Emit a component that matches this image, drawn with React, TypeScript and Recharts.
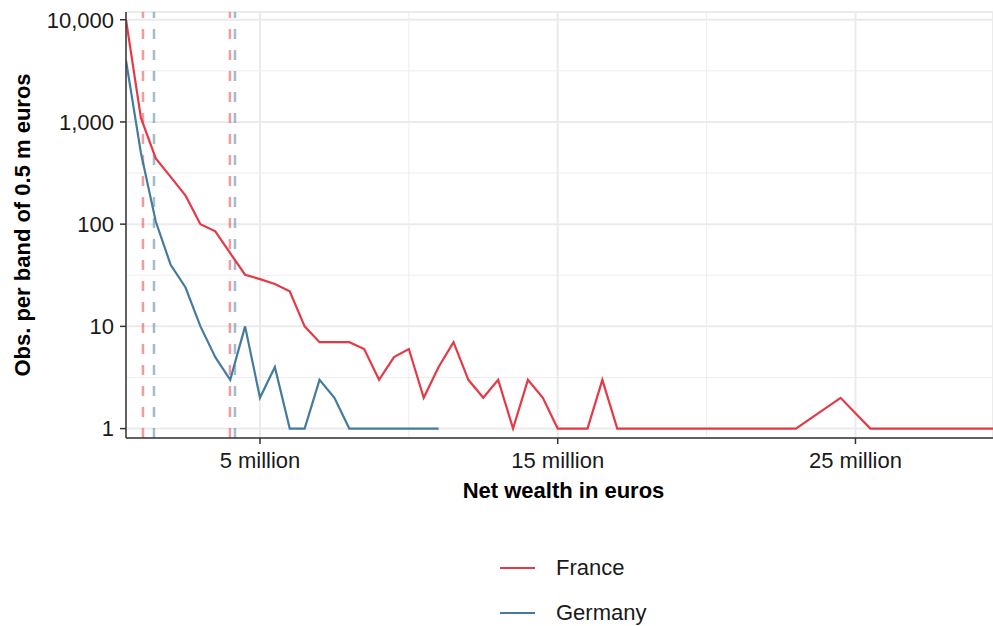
import {
  LineChart,
  Line,
  XAxis,
  YAxis,
  CartesianGrid,
  ReferenceLine,
  Legend,
} from "recharts";

// bands of 0.5 m euros (lower bound), only bands with observations
const franceBands = [
  0.5, 1, 1.5, 2, 2.5, 3, 3.5, 4, 4.5, 5, 5.5, 6, 6.5, 7, 7.5, 8, 8.5, 9, 9.5,
  10, 10.5, 11, 11.5, 12, 12.5, 13, 13.5, 14, 14.5, 15, 15.5, 16, 16.5, 17,
  17.5, 18, 18.5, 19, 19.5, 20, 20.5, 21, 21.5, 22, 22.5, 23, 24.5, 25.5, 26,
  26.5, 27, 27.5, 28, 28.5, 29, 29.5, 30,
];
const franceCounts = [
  10000, 1100, 440, 290, 190, 100, 85, 52, 32, 29, 26, 22, 10, 7, 7, 7, 6, 3, 5,
  6, 2, 4, 7, 3, 2, 3, 1, 3, 2, 1, 1, 1, 3, 1, 1, 1, 1, 1, 1, 1, 1, 1, 1, 1, 1,
  1, 2, 1, 1, 1, 1, 1, 1, 1, 1, 1, 1,
];

const germanyBands = [
  0.5, 1, 1.5, 2, 2.5, 3, 3.5, 4, 4.5, 5, 5.5, 6, 6.5, 7, 7.5, 8, 8.5, 9, 9.5,
  10, 10.5, 11,
];
const germanyCounts = [
  4000, 500, 106, 40, 24, 10, 5, 3, 10, 2, 4, 1, 1, 3, 2, 1, 1, 1, 1, 1, 1, 1,
];

// dashed markers per country (million euros)
const franceMarkers = [1.07, 3.99];
const germanyMarkers = [1.44, 4.16];

const xTicks = [5, 15, 25];
const xMinor = [10, 20];
const yTicks = [1, 10, 100, 1000, 10000];
const yMinor = [3.162, 31.62, 316.2, 3162];

const RED = "#E63946";
const BLUE = "#457B9D";
const FONT = '"Liberation Sans", Arial, sans-serif';

const franceData = franceBands.map((w, i) => ({ wealth: w, count: franceCounts[i] }));
const germanyData = germanyBands.map((w, i) => ({ wealth: w, count: germanyCounts[i] }));

function YTitle({ viewBox }: any) {
  const x = viewBox.x + 22;
  const y = viewBox.y + viewBox.height / 2;
  return (
    <text
      x={x}
      y={y}
      transform={`rotate(-90, ${x}, ${y})`}
      textAnchor="middle"
      dominantBaseline="central"
      fontFamily={FONT}
      fontSize={22}
      fontWeight="bold"
      fill="#000"
    >
      Obs. per band of 0.5 m euros
    </text>
  );
}

function LegendBox({ payload }: any) {
  return (
    <div style={{ fontFamily: FONT, fontSize: 22, color: "#1a1a1a" }}>
      {(payload ?? []).map((p: any) => (
        <div
          key={p.value}
          style={{ display: "flex", alignItems: "center", height: 45 }}
        >
          <span
            style={{
              display: "inline-block",
              width: 35,
              height: 2,
              background: p.color,
              marginRight: 21,
            }}
          />
          {p.value}
        </div>
      ))}
    </div>
  );
}

export default function App() {
  return (
    <div style={{ position: "absolute", left: 0, top: 0, width: 993, height: 626, background: "#fff" }}>
      <LineChart
        width={993}
        height={626}
        margin={{ top: 12, right: 0, bottom: 118, left: 0 }}
      >
        <CartesianGrid stroke="#EBEBEB" strokeWidth={2} />
        {xMinor.map((v) => (
          <ReferenceLine key={`xm${v}`} x={v} stroke="#EDEDED" strokeWidth={1} />
        ))}
        {yMinor.map((v) => (
          <ReferenceLine key={`ym${v}`} y={v} stroke="#EDEDED" strokeWidth={1} />
        ))}
        <XAxis
          dataKey="wealth"
          type="number"
          domain={[0.5, 29.62]}
          allowDataOverflow
          ticks={xTicks}
          tickFormatter={(v: number) => `${v} million`}
          tick={{ fontSize: 22, fill: "#1a1a1a", fontFamily: FONT }}
          tickSize={6}
          tickMargin={8}
          axisLine={{ stroke: "#333", strokeWidth: 1.5 }}
          tickLine={{ stroke: "#333", strokeWidth: 1.5 }}
          height={70}
          label={{
            value: "Net wealth in euros",
            position: "insideBottom",
            offset: 10,
            dx: 4,
            style: { fontSize: 22, fontWeight: "bold", fill: "#000", fontFamily: FONT },
          }}
        />
        <XAxis
          xAxisId="top"
          orientation="top"
          type="number"
          domain={[0.5, 29.62]}
          height={0}
          tick={false}
          tickLine={false}
          axisLine={{ stroke: "#333", strokeWidth: 1.5 }}
        />
        <YAxis
          scale="log"
          domain={[0.809, 11900]}
          allowDataOverflow
          ticks={yTicks}
          tickFormatter={(v: number) => v.toLocaleString("en-US")}
          tick={{ fontSize: 22, fill: "#1a1a1a", fontFamily: FONT }}
          tickSize={6}
          tickMargin={6}
          axisLine={{ stroke: "#333", strokeWidth: 1.5 }}
          tickLine={{ stroke: "#333", strokeWidth: 1.5 }}
          width={126}
          label={<YTitle />}
        />
        {franceMarkers.map((v) => (
          <ReferenceLine
            key={`fr${v}`}
            x={v}
            stroke={RED}
            strokeOpacity={0.5}
            strokeWidth={2.5}
            strokeDasharray="10 11"
          />
        ))}
        {germanyMarkers.map((v) => (
          <ReferenceLine
            key={`de${v}`}
            x={v}
            stroke={BLUE}
            strokeOpacity={0.5}
            strokeWidth={2.5}
            strokeDasharray="10 11"
          />
        ))}
        <Line
          data={franceData}
          dataKey="count"
          name="France"
          type="linear"
          stroke={RED}
          strokeWidth={2.2}
          dot={false}
          isAnimationActive={false}
        />
        <Line
          data={germanyData}
          dataKey="count"
          name="Germany"
          type="linear"
          stroke={BLUE}
          strokeWidth={2.2}
          dot={false}
          isAnimationActive={false}
        />
        <Legend
          layout="vertical"
          align="center"
          verticalAlign="middle"
          content={<LegendBox />}
          wrapperStyle={{ left: 500, top: 545, width: 220 }}
        />
      </LineChart>
    </div>
  );
}
